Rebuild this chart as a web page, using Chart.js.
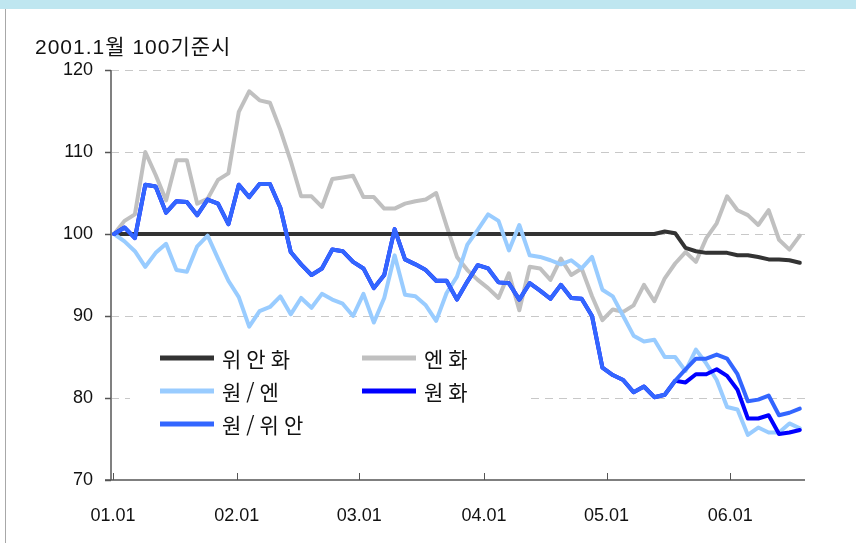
<!DOCTYPE html>
<html lang="ko">
<head>
    <meta charset="UTF-8">
    <title>원화 환율 지수</title>
    <style>
        body {
            margin: 0;
            background: #ffffff;
        }
        #fxChart {
            display: block;
        }
    </style>
</head>
<body>
    <canvas id="fxChart" width="856" height="543"></canvas>

    <script src="https://cdn.jsdelivr.net/npm/chart.js"></script>
    <script>
        // one point per month from 2001.01 (x = month number, 0 = 01.01)
        // year ticks sit a little left of the month grid in the original
        const tickMonths = [-0.1, 11.8, 23.6, 35.6, 47.4, 59.3];
        const tickLabels = ['01.01', '02.01', '03.01', '04.01', '05.01', '06.01'];
        const yTicks = [70, 80, 90, 100, 110, 120];

        const seriesNames = ['위안화', '엔화', '원/엔', '원화', '원/위안'];
        const seriesColors = ['#333333', '#c0c0c0', '#99ccff', '#0000ff', '#3366ff'];

        const yuan = [
            100, 100, 100, 100, 100, 100, 100, 100, 100, 100,
            100, 100, 100, 100, 100, 100, 100, 100, 100, 100,
            100, 100, 100, 100, 100, 100, 100, 100, 100, 100,
            100, 100, 100, 100, 100, 100, 100, 100, 100, 100,
            100, 100, 100, 100, 100, 100, 100, 100, 100, 100,
            100, 100, 100, 100.3, 100.1, 98.3, 97.9, 97.7, 97.7, 97.7,
            97.4, 97.4, 97.2, 96.9, 96.9, 96.8, 96.5
        ];
        const yen = [
            100, 101.6, 102.4, 110.0, 107.2, 104.1, 109.0, 109.0, 103.7, 104.3,
            106.6, 107.4, 114.9, 117.4, 116.3, 116.0, 112.7, 108.9, 104.6, 104.6,
            103.3, 106.7, 106.9, 107.1, 104.5, 104.5, 103.1, 103.1, 103.7, 104.0,
            104.2, 105.0, 101.0, 97.2, 95.6, 94.4, 93.4, 92.2, 95.2, 90.7,
            96.0, 95.8, 94.4, 97.0, 95.0, 95.8, 92.4, 89.5, 90.8, 90.5,
            91.3, 93.8, 91.8, 94.6, 96.4, 97.8, 96.6, 99.5, 101.3, 104.6,
            102.9, 102.3, 101.1, 102.9, 99.3, 98.1, 99.8
        ];
        const wonYen = [
            100, 99.1, 97.9, 96.0, 97.7, 98.8, 95.6, 95.4, 98.5, 99.8,
            97.0, 94.3, 92.3, 88.7, 90.6, 91.1, 92.4, 90.2, 92.2, 91.0,
            92.7, 92.0, 91.5, 90.0, 92.7, 89.2, 92.2, 97.4, 92.6, 92.4,
            91.3, 89.4, 92.8, 94.8, 98.7, 100.5, 102.4, 101.6, 98.0, 101.1,
            97.4, 97.2, 96.8, 96.3, 96.8, 95.8, 97.2, 93.2, 92.4, 90.0,
            87.6, 86.9, 87.1, 85.0, 85.0, 83.3, 85.9, 84.2, 82.2, 78.9,
            78.6, 75.5, 76.4, 75.8, 75.8, 76.9, 76.3
        ];
        const won = [
            100, 100.8, 99.5, 106.0, 105.8, 102.6, 104.0, 103.9, 102.3, 104.2,
            103.7, 101.2, 106.0, 104.5, 106.1, 106.1, 103.2, 97.8, 96.3, 95.0,
            95.8, 98.1, 97.9, 96.6, 95.8, 93.4, 95.0, 100.6, 96.9, 96.3,
            95.6, 94.3, 94.3, 92.0, 94.2, 96.2, 95.8, 94.1, 94.0, 92.0,
            94.0, 93.1, 92.1, 93.8, 92.2, 92.1, 90.0, 83.7, 82.8, 82.2,
            80.7, 81.4, 80.1, 80.4, 82.1, 81.9, 82.9, 82.9, 83.5, 82.7,
            81.0, 77.5, 77.5, 77.9, 75.6, 75.8, 76.1
        ];
        const wonYuan = [
            100, 100.8, 99.5, 106.0, 105.8, 102.6, 104.0, 103.9, 102.3, 104.2,
            103.7, 101.2, 106.0, 104.5, 106.1, 106.1, 103.2, 97.8, 96.3, 95.0,
            95.8, 98.1, 97.9, 96.6, 95.8, 93.4, 95.0, 100.6, 96.9, 96.3,
            95.6, 94.3, 94.3, 92.0, 94.2, 96.2, 95.8, 94.1, 94.0, 92.0,
            94.0, 93.1, 92.1, 93.8, 92.2, 92.1, 90.0, 83.7, 82.8, 82.2,
            80.7, 81.4, 80.1, 80.4, 82.1, 83.5, 84.8, 84.8, 85.3, 84.8,
            82.9, 79.6, 79.8, 80.3, 77.9, 78.2, 78.7
        ];

        const allSeries = [yuan, yen, wonYen, won, wonYuan];
        const drawOrder = [4, 5, 3, 2, 1]; // lower = on top

        const FONT = "'Liberation Sans', 'Noto Sans CJK KR', sans-serif";
        const KFONT = "'Noto Sans CJK KR', sans-serif";

        function toPoints(values) {
            return values.map((v, i) => ({ x: i, y: v }));
        }

        // page frame: blue strip on top, thin line on the left
        const framePlugin = {
            id: 'frame',
            beforeDraw(chart) {
                const c = chart.ctx;
                c.save();
                c.fillStyle = '#ffffff';
                c.fillRect(0, 0, chart.width, chart.height);
                c.fillStyle = '#bfe6f0';
                c.fillRect(0, 0, chart.width, 9);
                c.fillStyle = '#a8a8a8';
                c.fillRect(5, 9, 1, chart.height - 9);
                c.restore();
            }
        };

        // axis lines, tick marks and the boxed legend inside the plot
        const axesLegendPlugin = {
            id: 'axesLegend',
            beforeDatasetsDraw(chart) {
                const c = chart.ctx;
                const xs = chart.scales.x, ys = chart.scales.y;
                const area = chart.chartArea;
                c.save();

                // legend box hides grid lines under it
                c.fillStyle = '#ffffff';
                c.fillRect(130, 335, 401, 105);

                const rows = [[0, 1], [2, 3], [4]];
                const rowY = [358, 391, 424];
                const colX = [160, 362];
                c.font = '21px ' + KFONT;
                c.textBaseline = 'middle';
                c.letterSpacing = '5px';
                rows.forEach((row, r) => {
                    row.forEach((s, k) => {
                        c.strokeStyle = seriesColors[s];
                        c.lineWidth = 5;
                        c.beginPath();
                        c.moveTo(colX[k], rowY[r]);
                        c.lineTo(colX[k] + 54, rowY[r]);
                        c.stroke();
                        c.fillStyle = '#111111';
                        c.fillText(seriesNames[s], colX[k] + 62, rowY[r] + 1);
                    });
                });
                c.letterSpacing = '0px';

                // y axis
                c.strokeStyle = '#808080';
                c.lineWidth = 2;
                c.beginPath();
                c.moveTo(area.left, area.top);
                c.lineTo(area.left, area.bottom);
                c.stroke();
                c.lineWidth = 1.5;
                c.strokeStyle = '#555555';
                yTicks.forEach(v => {
                    const py = Math.round(ys.getPixelForValue(v)) + 0.5;
                    c.beginPath();
                    c.moveTo(area.left - 6, py);
                    c.lineTo(area.left, py);
                    c.stroke();
                });

                // x axis
                c.strokeStyle = '#555555';
                c.lineWidth = 1.5;
                c.beginPath();
                c.moveTo(area.left - 6, area.bottom);
                c.lineTo(area.right, area.bottom);
                c.stroke();
                c.lineWidth = 1;
                tickMonths.forEach(m => {
                    const px = Math.round(xs.getPixelForValue(m)) + 0.5;
                    c.beginPath();
                    c.moveTo(px, area.bottom);
                    c.lineTo(px, area.bottom - 7);
                    c.stroke();
                });

                c.restore();
            },
            afterDraw(chart) {
                const c = chart.ctx;
                c.save();
                c.font = '21px ' + FONT;
                c.fillStyle = '#111111';
                c.textBaseline = 'middle';
                c.letterSpacing = '1px';
                c.fillText('2001.1월 100기준시', 35, 48);
                c.restore();
            }
        };

        const ctx = document.getElementById('fxChart').getContext('2d');
        const fxChart = new Chart(ctx, {
            type: 'line',
            data: {
                datasets: allSeries.map((values, s) => ({
                    label: seriesNames[s],
                    data: toPoints(values),
                    borderColor: seriesColors[s],
                    borderWidth: 4,
                    borderJoinStyle: 'round',
                    borderCapStyle: 'round',
                    pointRadius: 0,
                    fill: false,
                    tension: 0,
                    order: drawOrder[s]
                }))
            },
            options: {
                responsive: false,
                animation: false,
                layout: {
                    padding: { top: 70, right: 51, left: 0, bottom: 0 }
                },
                plugins: {
                    legend: { display: false },
                    tooltip: { enabled: false }
                },
                scales: {
                    x: {
                        type: 'linear',
                        min: -0.3,
                        max: 66.5,
                        afterBuildTicks: scale => {
                            scale.ticks = tickMonths.map(v => ({ value: v }));
                        },
                        afterFit: scale => { scale.height = 63; },
                        grid: { display: false },
                        border: { display: false },
                        ticks: {
                            autoSkip: false,
                            maxRotation: 0,
                            padding: 17,
                            color: '#111111',
                            font: { family: FONT, size: 18 },
                            callback: value => tickLabels[tickMonths.indexOf(value)]
                        }
                    },
                    y: {
                        min: 70,
                        max: 120,
                        afterFit: scale => { scale.width = 111; },
                        grid: {
                            drawTicks: false,
                            lineWidth: 1,
                            color: c => (c.tick && c.tick.value === 70) ? 'rgba(0,0,0,0)' : '#c8c8c8'
                        },
                        border: { display: false, dash: [8, 6] },
                        ticks: {
                            stepSize: 10,
                            padding: 18,
                            color: '#111111',
                            font: { family: FONT, size: 18 }
                        }
                    }
                }
            },
            plugins: [framePlugin, axesLegendPlugin]
        });
    </script>
</body>
</html>
